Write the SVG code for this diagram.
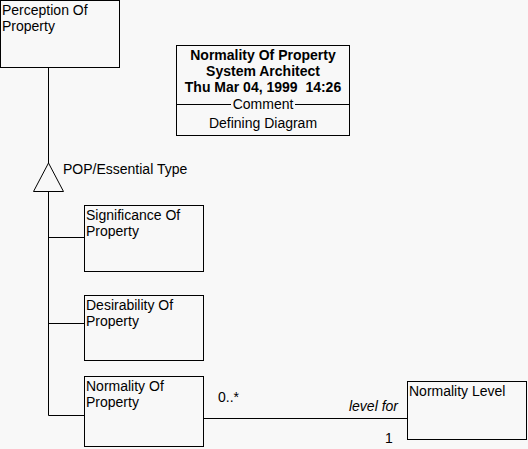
<svg xmlns="http://www.w3.org/2000/svg" width="528" height="449" viewBox="0 0 528 449">
<style>
.box{fill:#f8f8f8;stroke:#000;stroke-width:1}
.ln{stroke:#000;stroke-width:1;fill:none}
text{font-family:"Liberation Sans",Arial,sans-serif;font-size:14px;fill:#000;white-space:pre}
.b{font-weight:bold}
.c{text-anchor:middle}
</style>
<rect x="0" y="0" width="528" height="449" fill="#f8f8f8"/>
<g id="connectors">
<line class="ln" x1="48.5" y1="68" x2="48.5" y2="163"/>
<polygon class="box" points="48.5,163 33.5,191.5 63.5,191.5"/>
<line class="ln" x1="48.5" y1="191.5" x2="48.5" y2="415.5"/>
<line class="ln" x1="48.5" y1="237.5" x2="84" y2="237.5"/>
<line class="ln" x1="48.5" y1="323.5" x2="84" y2="323.5"/>
<line class="ln" x1="48.5" y1="415.5" x2="84" y2="415.5"/>
<line class="ln" x1="203" y1="418.5" x2="407" y2="418.5"/>
<text x="63" y="174">POP/Essential Type</text>
<text x="218" y="402">0..*</text>
<text x="398" y="411" text-anchor="end" font-style="italic">level for</text>
<text x="385" y="443">1</text>
</g>
<g id="perception">
<rect class="box" x="0.5" y="0.5" width="119" height="67"/>
<text x="2" y="15">Perception Of</text>
<text x="2" y="31">Property</text>
</g>
<g id="comment">
<rect class="box" x="176.5" y="45.5" width="173" height="90"/>
<text class="b c" x="263" y="60">Normality Of Property</text>
<text class="b c" x="263" y="76">System Architect</text>
<text class="b c" x="263" y="92" xml:space="preserve">Thu Mar 04, 1999  14:26</text>
<line class="ln" x1="177" y1="104.5" x2="231" y2="104.5"/>
<line class="ln" x1="295" y1="104.5" x2="349" y2="104.5"/>
<text class="c" x="263" y="109">Comment</text>
<text class="c" x="263" y="128">Defining Diagram</text>
</g>
<g id="significance">
<rect class="box" x="84.5" y="205.5" width="119" height="66"/>
<text x="86" y="220">Significance Of</text>
<text x="86" y="236">Property</text>
</g>
<g id="desirability">
<rect class="box" x="84.5" y="295.5" width="119" height="65"/>
<text x="86" y="310">Desirability Of</text>
<text x="86" y="326">Property</text>
</g>
<g id="normality">
<rect class="box" x="84.5" y="376.5" width="119" height="70"/>
<text x="86" y="391">Normality Of</text>
<text x="86" y="407">Property</text>
</g>
<g id="normalitylevel">
<rect class="box" x="407.5" y="381.5" width="119" height="58"/>
<text x="409" y="396">Normality Level</text>
</g>
</svg>
